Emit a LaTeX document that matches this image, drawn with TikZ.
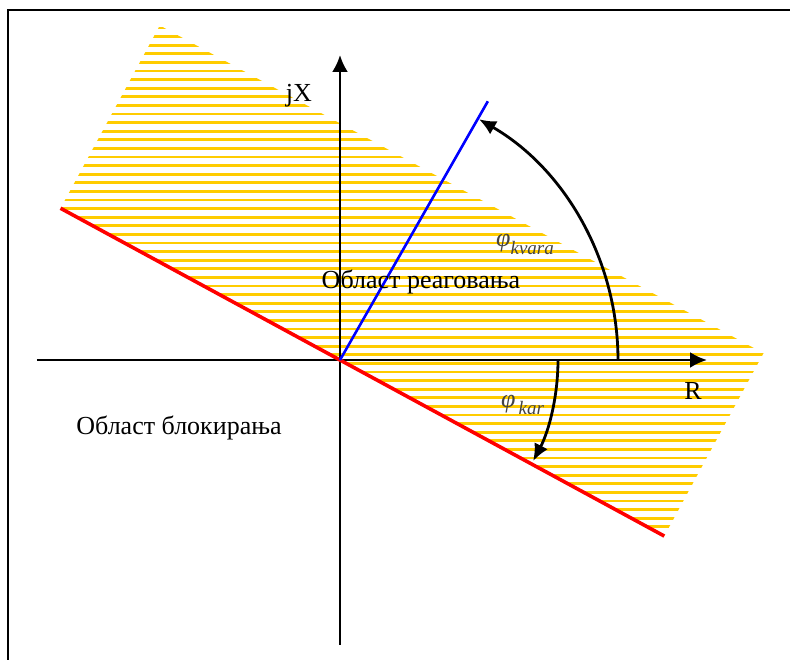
\documentclass[tikz,border=0pt]{standalone}
\usepackage{fontspec}
\setmainfont{Liberation Serif}
\usetikzlibrary{arrows.meta, calc}
\definecolor{Hatch}{HTML}{FFCC00}
\definecolor{Reach}{HTML}{0000FF}
\definecolor{Block}{HTML}{FF0000}
\definecolor{Angle}{HTML}{444444}
\tikzset{
    axisline/.style={-{Latex[length=17pt, width=16pt]}, line width=2.6pt, black},
    anglearc/.style={-{Latex[length=17pt, width=15pt]}, line width=2.8pt, black},
    hatchline/.style={Hatch, line width=2.8pt},
    bigtext/.style={font=\fontsize{26}{26}\selectfont, inner sep=0pt, anchor=base},
    angletext/.style={text=Angle, inner sep=0pt, anchor=base west, font=\itshape},
}

\begin{document}
\begin{tikzpicture}[x=1pt, y=1pt]
    \useasboundingbox (-340,-300) rectangle (450,360);

    % Okvir
    \draw[line width=2.6pt] (-332,-300) -- (-332,350) -- (450,350);

    % Srafirana oblast (pravougaonik uz crvenu pravu)
    \coordinate (cA) at (151.5:318);
    \coordinate (cB) at (-28.5:369);
    \coordinate (cC) at ($(cB)+(61.5:208)$);
    \coordinate (cD) at ($(cA)+(61.5:208)$);
    \begin{scope}
        \clip (cA) -- (cB) -- (cC) -- (cD) -- cycle;
        \foreach \k in {0,...,62}
            \draw[hatchline] (-320,332-8.6*\k) -- (460,332-8.6*\k);
    \end{scope}

    % Ose
    \coordinate (O) at (0,0);
    \draw[axisline] (-303,0) -- (367,0);
    \draw[axisline] (0,-285) -- (0,305);

    % Karakteristika i prava kvara
    \draw[Block, line width=3.6pt] (cA) -- (cB);
    \draw[Reach, line width=2.6pt] (O) -- (60.25:298);

    % Uglovi
    \draw[anglearc] (0:278) arc[start angle=0, end angle=60, radius=278];
    \draw[anglearc] (0:218) arc[start angle=0, end angle=-27.6, radius=218];

    % Natpisi
    \node[bigtext] (jx) at (-41,258) {jX};
    \node[bigtext] (rr) at (353,-40) {R};
    \node[bigtext] (react) at (81,71) {Област реаговања};
    \node[bigtext] (block) at (-161,-75) {Област блокирања};
    \node[angletext] (phikv) at (156,113)
        {\fontsize{26}{26}\selectfont φ\raisebox{-8pt}{\fontsize{19}{19}\selectfont kvara}};
    \node[angletext] (phikr) at (161,-48)
        {\fontsize{26}{26}\selectfont φ\hspace{3pt}\raisebox{-7pt}{\fontsize{19}{19}\selectfont kar}};
\end{tikzpicture}
\end{document}
